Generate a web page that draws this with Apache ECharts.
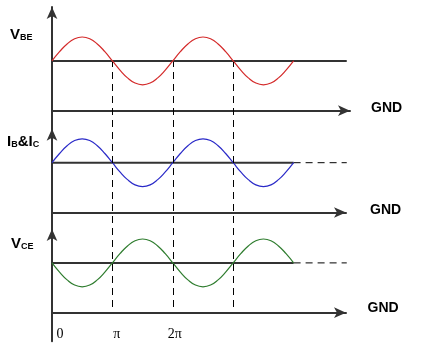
<!DOCTYPE html>
<html>
<head>
<meta charset="utf-8">
<script src="https://cdn.jsdelivr.net/npm/echarts@6/dist/echarts.min.js"></script>
<style>html,body{margin:0;padding:0;background:#fff;}#c{width:422px;height:343px;}</style>
</head>
<body>
<div id="c"></div>
<script>
// ---- data ----
// phase positions in units of pi
const phasePi = [0,0.125,0.25,0.375,0.5,0.625,0.75,0.875,1,1.125,1.25,1.375,1.5,1.625,1.75,1.875,2,2.125,2.25,2.375,2.5,2.625,2.75,2.875,3,3.125,3.25,3.375,3.5,3.625,3.75,3.875,4];
// signal deviation from DC level
const vbe  = [0,0.37,0.68,0.89,0.96,0.89,0.68,0.37,0,-0.37,-0.68,-0.89,-0.96,-0.89,-0.68,-0.37,0,0.37,0.68,0.89,0.96,0.89,0.68,0.37,0,-0.37,-0.68,-0.89,-0.96,-0.89,-0.68,-0.37,0];
const ibic = [0,0.37,0.68,0.89,0.96,0.89,0.68,0.37,0,-0.37,-0.68,-0.89,-0.96,-0.89,-0.68,-0.37,0,0.37,0.68,0.89,0.96,0.89,0.68,0.37,0,-0.37,-0.68,-0.89,-0.96,-0.89,-0.68,-0.37,0];
const vce  = [0,-0.37,-0.68,-0.89,-0.96,-0.89,-0.68,-0.37,0,0.37,0.68,0.89,0.96,0.89,0.68,0.37,0,-0.37,-0.68,-0.89,-0.96,-0.89,-0.68,-0.37,0,0.37,0.68,0.89,0.96,0.89,0.68,0.37,0];
const dcLevel = [2, 2, 2];
const solidEnd = [4.88, 4, 4];
const dashEnd  = [null, 4.88, 4.88];
const markPi = [1, 2, 3];
const tickLabels = {0: '{z|0}', 1: '{p|\u03c0}', 2: '{q|2\u03c0}'};
const waveColors = ['#d42a2a', '#2a2ac8', '#2f7d2f'];
const waves = [vbe, ibic, vce];

// ---- layout ----
const LEFT = 52, PX_PER_PI = 60.4, PX_PER_UNIT = 24.9;
const widths = [298, 294, 294];
const topY = [7, 110.7, 212.5];
const gndY = [110.7, 212.5, 312.7];
const arrowShift = [0, -18, -16.5];
const gndGap = [21, 24, 21.5];
const gndLift = [2.7, 2, 4.4];
const AX = '#333';
const serif = {fontFamily: 'Liberation Serif', fontSize: 14, color: '#000'};

const grids = [], xAxes = [], yAxes = [], series = [];
for (let i = 0; i < 3; i++) {
  grids.push({left: LEFT, top: topY[i], width: widths[i], height: gndY[i] - topY[i], containLabel: false, outerBoundsMode: 'none'});
  xAxes.push({
    type: 'value', gridIndex: i, min: 0, max: widths[i] / PX_PER_PI, interval: 1,
    name: 'GND', nameLocation: 'end', nameGap: gndGap[i],
    nameTextStyle: {fontFamily: 'Liberation Sans', fontWeight: 'bold', fontSize: 14, color: '#000',
                    verticalAlign: 'bottom', lineHeight: 2 * gndLift[i]},
    axisLine: {onZero: false, symbol: ['none', 'arrow'], symbolSize: [8, 12], lineStyle: {color: AX, width: 2}},
    axisTick: {show: false}, splitLine: {show: false},
    axisLabel: i === 2 ? {
      show: true, margin: 15, color: '#000', fontFamily: 'Liberation Serif', fontSize: 14,
      showMaxLabel: false, hideOverlap: false,
      rich: {
        z: Object.assign({padding: [0, 0, 0, 16]}, serif),
        p: Object.assign({padding: [0, 0, 0, 9]}, serif),
        q: Object.assign({padding: [0, 0, 0, 4]}, serif)
      },
      formatter: v => tickLabels[v] || ''
    } : {show: false}
  });
  yAxes.push({
    type: 'value', gridIndex: i, min: 0, max: (gndY[i] - topY[i]) / PX_PER_UNIT,
    axisLine: {onZero: false, symbol: ['none', 'arrow'], symbolSize: [8, 12], symbolOffset: [0, arrowShift[i]], lineStyle: {color: AX, width: 2}},
    axisTick: {show: false}, axisLabel: {show: false}, splitLine: {show: false}
  });
  series.push({
    type: 'line', xAxisIndex: i, yAxisIndex: i, symbol: 'none', silent: true,
    lineStyle: {color: AX, width: 2}, z: 3,
    data: [[0, dcLevel[i]], [solidEnd[i], dcLevel[i]]]
  });
  if (dashEnd[i] !== null) {
    series.push({
      type: 'line', xAxisIndex: i, yAxisIndex: i, symbol: 'none', silent: true,
      lineStyle: {color: '#000', width: 1, type: [7, 5]}, z: 3,
      data: [[solidEnd[i], dcLevel[i]], [dashEnd[i], dcLevel[i]]]
    });
  }
  series.push({
    type: 'line', xAxisIndex: i, yAxisIndex: i, symbol: 'none', silent: true, smooth: true,
    lineStyle: {color: waveColors[i], width: 1.2}, z: 4,
    data: phasePi.map((p, k) => [p, dcLevel[i] + waves[i][k]])
  });
}
// overlay grid for the vertical pi markers
grids.push({left: LEFT, top: 62, width: 294, height: 245, containLabel: false, outerBoundsMode: 'none'});
xAxes.push({type: 'value', gridIndex: 3, min: 0, max: 294 / PX_PER_PI, show: false});
yAxes.push({type: 'value', gridIndex: 3, min: 0, max: 1, show: false});
series.push({
  type: 'line', xAxisIndex: 3, yAxisIndex: 3, data: [], silent: true,
  markLine: {
    silent: true, symbol: ['none', 'none'], label: {show: false}, animation: false,
    lineStyle: {color: '#000', width: 1, type: [7, 5]},
    data: markPi.map(v => ({xAxis: v}))
  }
});
// stub grid: continuation of the vertical axis below the last GND line
grids.push({left: LEFT, top: 312.7, width: 294, height: 28.5, containLabel: false, outerBoundsMode: 'none'});
xAxes.push({type: 'value', gridIndex: 4, min: 0, max: 1, show: false});
yAxes.push({type: 'value', gridIndex: 4, min: 0, max: 1,
  axisLine: {show: true, onZero: false, lineStyle: {color: AX, width: 2}},
  axisTick: {show: false}, axisLabel: {show: false}, splitLine: {show: false}});

const lab = {fontFamily: 'Liberation Sans', fontWeight: 'bold', fontSize: 15, color: '#000', lineHeight: 15, verticalAlign: 'bottom'};
const sub = {fontFamily: 'Liberation Sans', fontWeight: 'bold', fontSize: 9, color: '#000', lineHeight: 12, verticalAlign: 'bottom'};
const titles = [
  {text: '{m|V}{s|BE}', left: 10, top: 27},
  {text: '{m|I}{s|B}{m|&I}{s|C}', left: 7, top: 134},
  {text: '{m|V}{s|CE}', left: 11, top: 236}
].map(t => Object.assign(t, {padding: 0, textStyle: {rich: {m: lab, s: sub}}}));

const chart = echarts.init(document.getElementById('c'), null, {renderer: 'canvas'});
chart.setOption({
  animation: false,
  backgroundColor: '#fff',
  title: titles,
  grid: grids, xAxis: xAxes, yAxis: yAxes, series: series
});
</script>
</body>
</html>
